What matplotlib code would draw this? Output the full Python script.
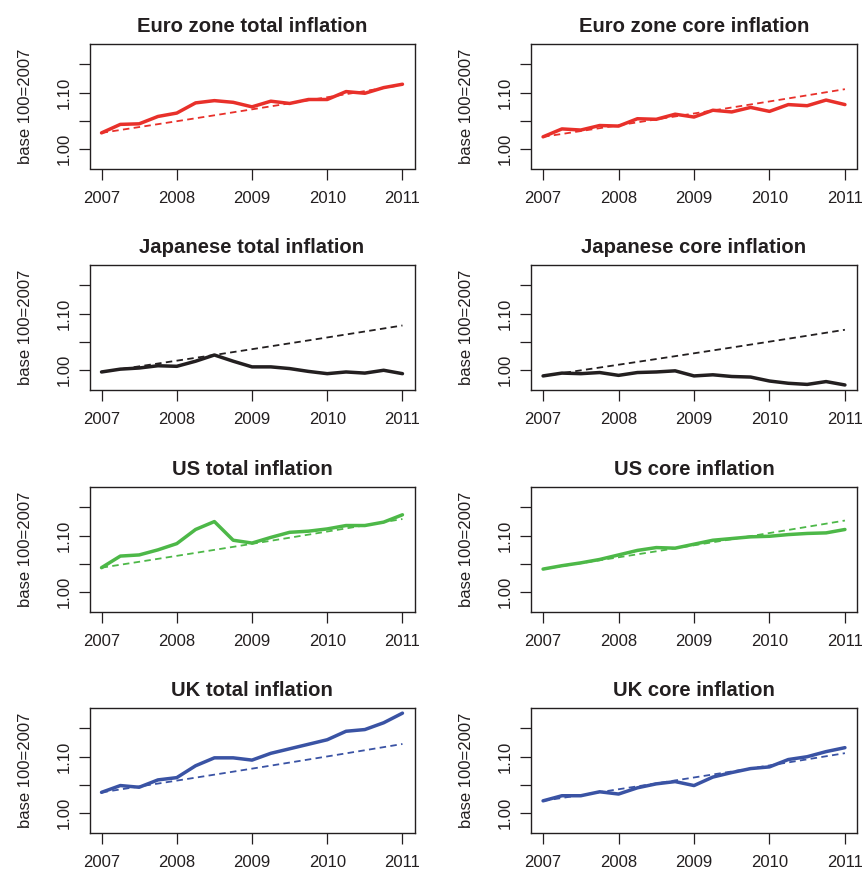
import numpy as np
import matplotlib
matplotlib.use("Agg")
import matplotlib.pyplot as plt

plt.rcParams['font.family'] = ['Liberation Sans', 'DejaVu Sans']

# Quarterly observations, 2007Q1 .. 2011Q1 (price level, base 100 = 2007)
quarters = [2007.00, 2007.25, 2007.50, 2007.75, 2008.00, 2008.25, 2008.50, 2008.75,
            2009.00, 2009.25, 2009.50, 2009.75, 2010.00, 2010.25, 2010.50, 2010.75,
            2011.00]

euro_total = [1.029, 1.044, 1.045, 1.058, 1.064, 1.082, 1.086, 1.083, 1.075,
              1.085, 1.081, 1.088, 1.088, 1.102, 1.099, 1.109, 1.115]
euro_core = [1.022, 1.036, 1.034, 1.042, 1.041, 1.054, 1.053, 1.062, 1.057,
             1.069, 1.066, 1.074, 1.067, 1.079, 1.077, 1.087, 1.079]
japan_total = [0.997, 1.002, 1.004, 1.008, 1.007, 1.016, 1.027, 1.016, 1.006,
               1.006, 1.003, 0.998, 0.994, 0.997, 0.995, 1.000, 0.994]
japan_core = [0.990, 0.995, 0.994, 0.996, 0.991, 0.996, 0.997, 0.999, 0.990,
              0.992, 0.989, 0.988, 0.981, 0.977, 0.975, 0.980, 0.974]
us_total = [1.0435, 1.064, 1.066, 1.075, 1.086, 1.111, 1.125, 1.092, 1.087,
            1.097, 1.106, 1.108, 1.112, 1.118, 1.118, 1.124, 1.137]
us_core = [1.041, 1.047, 1.052, 1.058, 1.066, 1.074, 1.079, 1.078, 1.085,
           1.092, 1.095, 1.098, 1.099, 1.102, 1.104, 1.105, 1.111]
uk_total = [1.037, 1.049, 1.046, 1.059, 1.063, 1.084, 1.098, 1.098, 1.094,
            1.106, 1.114, 1.122, 1.130, 1.145, 1.148, 1.160, 1.177]
uk_core = [1.022, 1.031, 1.031, 1.038, 1.034, 1.045, 1.052, 1.056, 1.049,
           1.064, 1.072, 1.079, 1.082, 1.095, 1.100, 1.109, 1.116]

titles = ["Euro zone total inflation", "Euro zone core inflation",
          "Japanese total inflation", "Japanese core inflation",
          "US total inflation", "US core inflation",
          "UK total inflation", "UK core inflation"]

# Annual inflation target used for the dashed reference path
target_rate = 0.02

year_ticks = [2007, 2008, 2009, 2010, 2011]
level_ticks = [1.00, 1.05, 1.10, 1.15]
level_labels = ["1.00", "", "1.10", ""]

red = "#E8302A"
black = "#231F20"
green = "#4DB848"
blue = "#3A53A4"
ink = "#231F20"

panels = [
    (euro_total, red), (euro_core, red),
    (japan_total, black), (japan_core, black),
    (us_total, green), (us_core, green),
    (uk_total, blue), (uk_core, blue),
]

W, H = 863, 869
fig = plt.figure(figsize=(W / 100, H / 100), dpi=100)
fig.patch.set_facecolor("white")

col_left = [89.5, 531.0]
col_width = [325.0, 326.0]
row_top = [43.5, 264.5, 486.5, 707.5]
box_h = 125.0

x = np.array(quarters)
for i, ((series, color), title) in enumerate(zip(panels, titles)):
    r, c = divmod(i, 2)
    left = col_left[c] / W
    bottom = 1 - (row_top[r] + box_h) / H
    ax = fig.add_axes([left, bottom, col_width[c] / W, box_h / H])

    y = np.array(series)
    path = y[0] * (1 + target_rate) ** (x - x[0])
    ax.plot(x, path, color=color, lw=1.3, dashes=(3.6, 2.4))
    ax.plot(x, y, color=color, lw=2.5, solid_joinstyle="round",
            solid_capstyle="round")

    ax.set_xlim(2006.84, 2011.16)
    ax.set_ylim(0.966, 1.187)
    ax.set_xticks(year_ticks)
    ax.set_xticklabels([str(t) for t in year_ticks])
    ax.set_yticks(level_ticks)
    ax.set_yticklabels(level_labels, rotation=90, va="center")

    ax.tick_params(axis="both", direction="out", length=8, width=0.9,
                   colors=ink, labelsize=12, labelcolor=ink)
    ax.tick_params(axis="x", pad=8)
    ax.tick_params(axis="y", pad=5)
    for sp in ax.spines.values():
        sp.set_color(ink)
        sp.set_linewidth(1.0)

    ax.set_title(title, fontsize=14.6, fontweight="bold", color=ink, pad=8)
    ax.set_ylabel("base 100=2007", fontsize=12, color=ink, labelpad=17)

fig.savefig("out.png", dpi=100, facecolor="white")
